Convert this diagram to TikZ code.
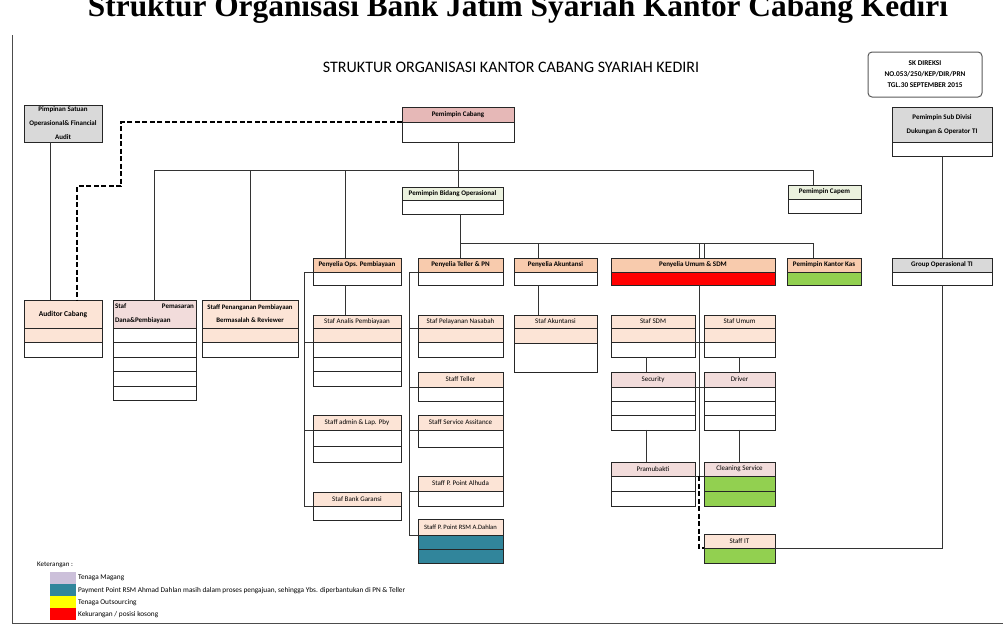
\documentclass[tikz,border=0pt]{standalone}
\usepackage{fontspec}
\setmainfont{Carlito}
\newfontfamily\titlefont{Liberation Serif}
\usepackage{graphicx}

\definecolor{headcab}{RGB}{230,184,183}
\definecolor{headspv}{RGB}{248,203,173}
\definecolor{peach}{RGB}{252,228,214}
\definecolor{rose}{RGB}{242,220,219}
\definecolor{mint}{RGB}{235,241,222}
\definecolor{greyhd}{RGB}{217,217,217}
\definecolor{kosong}{RGB}{255,0,0}
\definecolor{outsrc}{RGB}{146,208,80}
\definecolor{payteal}{RGB}{49,133,155}
\definecolor{magang}{RGB}{204,192,218}
\definecolor{yell}{RGB}{255,255,0}

\tikzset{
  hd/.style={draw=black!85, line width=0.7pt, anchor=north west, inner sep=1pt, outer sep=0pt,
    align=center, font=\bfseries\fontsize{7}{8}\selectfont},
  hdn/.style={hd, font=\fontsize{7}{8}\selectfont},
  rw/.style={draw=black!85, line width=0.7pt, anchor=north, inner sep=0pt, outer sep=0pt},
  con/.style={line width=0.6pt, black!80},
  dsh/.style={line width=1.3pt, dash pattern=on 5pt off 2.5pt},
}

% rows under a header: [row height]{header}{width}{fills}
\newcommand{\boxrows}[4][14.5pt]{%
  \foreach \f [count=\i] in {#4} {
    \node[rw, fill=\f, minimum width=#3, minimum height=#1] (#2-\i) at ([yshift={-(\i-1)*#1}]#2.south) {};
  }}

\begin{document}
\begin{tikzpicture}[x=1pt,y=-1pt]
\useasboundingbox (0,0) rectangle (1003,633);

% judul
\node[anchor=base, inner sep=0pt] (judul) at (518,16) {\resizebox{860pt}{!}{\titlefont\bfseries Struktur Organisasi Bank Jatim Syariah Kantor Cabang Kediri}};
\draw[line width=0.8pt, black!70] (12,35) -- (12,623) -- (1003,623);
\node (kepala) at (511,67) {\fontsize{16}{18}\selectfont STRUKTUR ORGANISASI KANTOR CABANG SYARIAH KEDIRI};
\node[draw=black!65, rounded corners=4pt, line width=1pt, minimum width=114pt, minimum height=45pt,
  align=center, font=\bfseries\fontsize{7.3}{11}\selectfont] (skdir) at (925,74.5) {SK DIREKSI\\NO.053/250/KEP/DIR/PRN\\TGL.30 SEPTEMBER 2015};

% pimpinan
\node[hd, fill=greyhd, minimum width=78pt, minimum height=37pt, font=\bfseries\fontsize{7}{14}\selectfont] (psa) at (24,105) {Pimpinan Satuan\\Operasional\& Financial\\Audit};
\node[hd, fill=headcab, minimum width=112pt, minimum height=15pt] (cab) at (402,107) {Pemimpin Cabang};
\boxrows[20pt]{cab}{112pt}{white}
\node[hd, fill=greyhd, minimum width=100pt, minimum height=35pt, font=\bfseries\fontsize{7}{14}\selectfont] (sdv) at (892,107) {Pemimpin Sub Divisi\\Dukungan \& Operator TI};
\boxrows[14pt]{sdv}{100pt}{white}
\node[hd, fill=mint, minimum width=101pt, minimum height=13pt] (bid) at (402,187) {Pemimpin Bidang Operasional};
\boxrows[14pt]{bid}{101pt}{white}
\node[hd, fill=mint, minimum width=73pt, minimum height=14pt] (cpm) at (788,185) {Pemimpin Capem};
\boxrows{cpm}{73pt}{white}

% penyelia
\node[hd, fill=headspv, minimum width=88pt, minimum height=14pt] (pob) at (313,258) {Penyelia Ops. Pembiayaan};
\boxrows[13pt]{pob}{88pt}{white}
\node[hd, fill=headspv, minimum width=85pt, minimum height=14pt] (ptl) at (418,258) {Penyelia Teller \& PN};
\boxrows[13pt]{ptl}{85pt}{white}
\node[hd, fill=headspv, minimum width=83pt, minimum height=14pt] (pak) at (514,258) {Penyelia Akuntansi};
\boxrows[13pt]{pak}{83pt}{white}
\node[hd, fill=headspv, minimum width=164pt, minimum height=14pt] (pum) at (611,258) {Penyelia Umum \& SDM};
\boxrows[13pt]{pum}{164pt}{kosong}
\node[hd, fill=headspv, minimum width=74pt, minimum height=14pt] (pkk) at (787,258) {Pemimpin Kantor Kas};
\boxrows[13pt]{pkk}{74pt}{outsrc}
\node[hd, fill=greyhd, minimum width=100pt, minimum height=14pt] (gop) at (892,258) {Group Operasional TI};
\boxrows[13pt]{gop}{100pt}{white}

% staf kiri
\node[hd, fill=peach, minimum width=78pt, minimum height=28pt, font=\bfseries\fontsize{7.5}{9}\selectfont] (aud) at (24,300) {Auditor Cabang};
\boxrows{aud}{78pt}{peach,white}
\node[hd, fill=rose, minimum width=83pt, minimum height=28pt, text width=79pt, align=left,
  font=\bfseries\fontsize{7}{14}\selectfont] (pms) at (113,300) {Staf\hfill Pemasaran\\Dana\&Pembiayaan};
\boxrows{pms}{83pt}{white,white,white,white,white}
\node[hd, fill=peach, minimum width=96pt, minimum height=28pt, font=\bfseries\fontsize{6.8}{13}\selectfont] (pgn) at (202,300) {Staff Penanganan Pembiayaan\\Bermasalah \& Reviewer};
\boxrows{pgn}{96pt}{peach,white}

% pembiayaan
\node[hdn, fill=peach, minimum width=88pt, minimum height=13pt] (ana) at (313,315) {Staf Analis Pembiayaan};
\boxrows{ana}{88pt}{peach,white,white,white}
\node[hdn, fill=peach, minimum width=88pt, minimum height=15pt] (adm) at (313,415) {Staff admin \& Lap. Pby};
\boxrows[16pt]{adm}{88pt}{white,white}
\node[hdn, fill=peach, minimum width=88pt, minimum height=14pt] (bgr) at (313,492) {Staf Bank Garansi};
\boxrows[14pt]{bgr}{88pt}{white}

% teller
\node[hdn, fill=peach, minimum width=85pt, minimum height=13pt] (pel) at (418,315) {Staf Pelayanan Nasabah};
\boxrows{pel}{85pt}{peach,white}
\node[hdn, fill=peach, minimum width=85pt, minimum height=15pt] (stl) at (418,372) {Staff Teller};
\boxrows{stl}{85pt}{white}
\node[hdn, fill=peach, minimum width=85pt, minimum height=15pt] (ssa) at (418,415) {Staff Service Assitance};
\boxrows[17pt]{ssa}{85pt}{white}
\node[hdn, fill=peach, minimum width=85pt, minimum height=15pt] (alh) at (418,476) {Staff P. Point Alhuda};
\boxrows[15pt]{alh}{85pt}{white}
\node[hdn, fill=peach, minimum width=85pt, minimum height=16pt, font=\fontsize{6.6}{8}\selectfont] (dah) at (418,519) {Staff P. Point RSM A.Dahlan};
\boxrows[14pt]{dah}{85pt}{payteal,payteal}

% akuntansi
\node[hdn, fill=peach, minimum width=83pt, minimum height=13pt] (sak) at (514,315) {Staf Akuntansi};
\boxrows[15pt]{sak}{83pt}{peach}
\node[rw, fill=white, minimum width=83pt, minimum height=29pt] (sak-2) at (sak-1.south) {};

% umum & sdm
\node[hdn, fill=peach, minimum width=84pt, minimum height=13pt] (sdm) at (611,315) {Staf SDM};
\boxrows{sdm}{84pt}{peach,white}
\node[hdn, fill=peach, minimum width=71pt, minimum height=13pt] (sum) at (704,315) {Staf Umum};
\boxrows{sum}{71pt}{peach,white}
\node[hdn, fill=rose, minimum width=84pt, minimum height=15pt] (sec) at (611,372) {Security};
\boxrows[14.3pt]{sec}{84pt}{white,white,white}
\node[hdn, fill=rose, minimum width=71pt, minimum height=15pt] (drv) at (704,372) {Driver};
\boxrows[14.3pt]{drv}{71pt}{white,white,white}
\node[hdn, fill=rose, minimum width=84pt, minimum height=14pt] (pra) at (611,462) {Pramubakti};
\boxrows[15pt]{pra}{84pt}{white,white}
\node[hdn, fill=rose, minimum width=71pt, minimum height=14pt] (cln) at (704,462) {Cleaning Service};
\boxrows[15pt]{cln}{71pt}{outsrc,outsrc}
\node[hdn, fill=peach, minimum width=71pt, minimum height=14pt] (sit) at (704,534) {Staff IT};
\boxrows[15pt]{sit}{71pt}{outsrc}

% garis
\coordinate (busA) at (0,170);
\coordinate (busB) at (0,243);
\coordinate (dbend) at (121,186);
\coordinate (pobup) at ([xshift=-12pt]pob.north);
\coordinate (cpmup) at ([xshift=-11pt]cpm.north);
\coordinate (pkkup) at ([xshift=-11pt]pkk.north);
\coordinate (pakup) at ([xshift=-17pt]pak.north);
\coordinate (pumupA) at ([xshift=6pt]pum.north);
\coordinate (pumupB) at ([xshift=11pt]pum.north);
\coordinate (itup) at ([xshift=6pt]pum-1.south);

\draw[con] ([xshift=-13pt]psa.south) -- ([xshift=-13pt]aud.north);
\draw[dsh] (cab.south west) -| (dbend) -| ([xshift=14pt]aud.north);
\draw[con] (cab-1.south) -- (cab-1.south |- bid.north);
\draw[con] (pms.north) |- (cpmup |- busA) -- (cpmup);
\draw[con] (pgn.north) -- (pgn.north |- busA);
\draw[con] (pobup) -- (pobup |- busA);
\draw[con] (bid-1.south -| ptl.north) -- (ptl.north);
\draw[con] (ptl.north |- busB) -| (pkkup);
\draw[con] (pakup) -- (pakup |- busB);
\draw[con] (pumupA) -- (pumupA |- busB);
\draw[con] (pumupB) -- (pumupB |- busB);
\draw[con] (sdv-1.south) -- (gop.north);

\coordinate (brA) at ([xshift=-9pt]pob.south west);
\draw[con] (pob.south west) -- (brA) -- (brA |- bgr.south west) -- (bgr.south west);
\draw[con] (brA |- ana-1.south west) -- (ana-1.south west);
\draw[con] (brA |- adm.south west) -- (adm.south west);
\draw[con] ([xshift=-12pt]pob-1.south) -- ([xshift=-12pt]ana.north);

\coordinate (brB) at ([xshift=-9pt]ptl.south west);
\draw[con] (ptl.south west) -- (brB) -- (brB |- dah.south west) -- (dah.south west);
\foreach \n in {pel,stl,ssa,alh}
  \draw[con] (brB |- \n.south west) -- (\n.south west);
\draw[line width=0.7pt, black!85] (stl.north east) -- (alh-1.south east);

\draw[con] ([xshift=-17pt]pak-1.south) -- ([xshift=-17pt]sak.north);
\draw[con] ([xshift=-7pt]sdm-2.south) -- ([xshift=-7pt]sec.north);
\draw[con] ([xshift=-7pt]sec-3.south) -- ([xshift=-7pt]pra.north);
\draw[con] (sum-2.south) -- (drv.north);
\draw[con] (drv-3.south) -- (cln.north);
\draw[con] (sdm-1.south east) -- (sum-1.south west);
\draw[con] (sec.south east) -- (drv.south west);
\draw[con] (pra.south east) -- (cln.south west);
\draw[con] (itup) -- (itup |- pra.south);
\draw[dsh] (itup |- pra.south) |- (sit.south west);
\draw[con] (gop-1.south) |- (sit.south east);

% keterangan
\node[anchor=west, inner sep=0pt, font=\fontsize{7}{8}\selectfont] (ket) at (37,565) {Keterangan :};
\foreach \c/\t [count=\i] in {magang/{Tenaga Magang},
    payteal/{Payment Point RSM Ahmad Dahlan masih dalam proses pengajuan, sehingga Ybs. diperbantukan di PN \& Teller},
    yell/{Tenaga Outsourcing}, kosong/{Kekurangan / posisi kosong}} {
  \node[fill=\c, minimum width=26pt, minimum height=12pt, anchor=north west, inner sep=0pt] (sw\i) at (50,{560+12*\i}) {};
  \node[anchor=west, inner sep=1.5pt, font=\fontsize{7.3}{8}\selectfont] (lg\i) at (sw\i.east) {\t};
}
\end{tikzpicture}
\end{document}
